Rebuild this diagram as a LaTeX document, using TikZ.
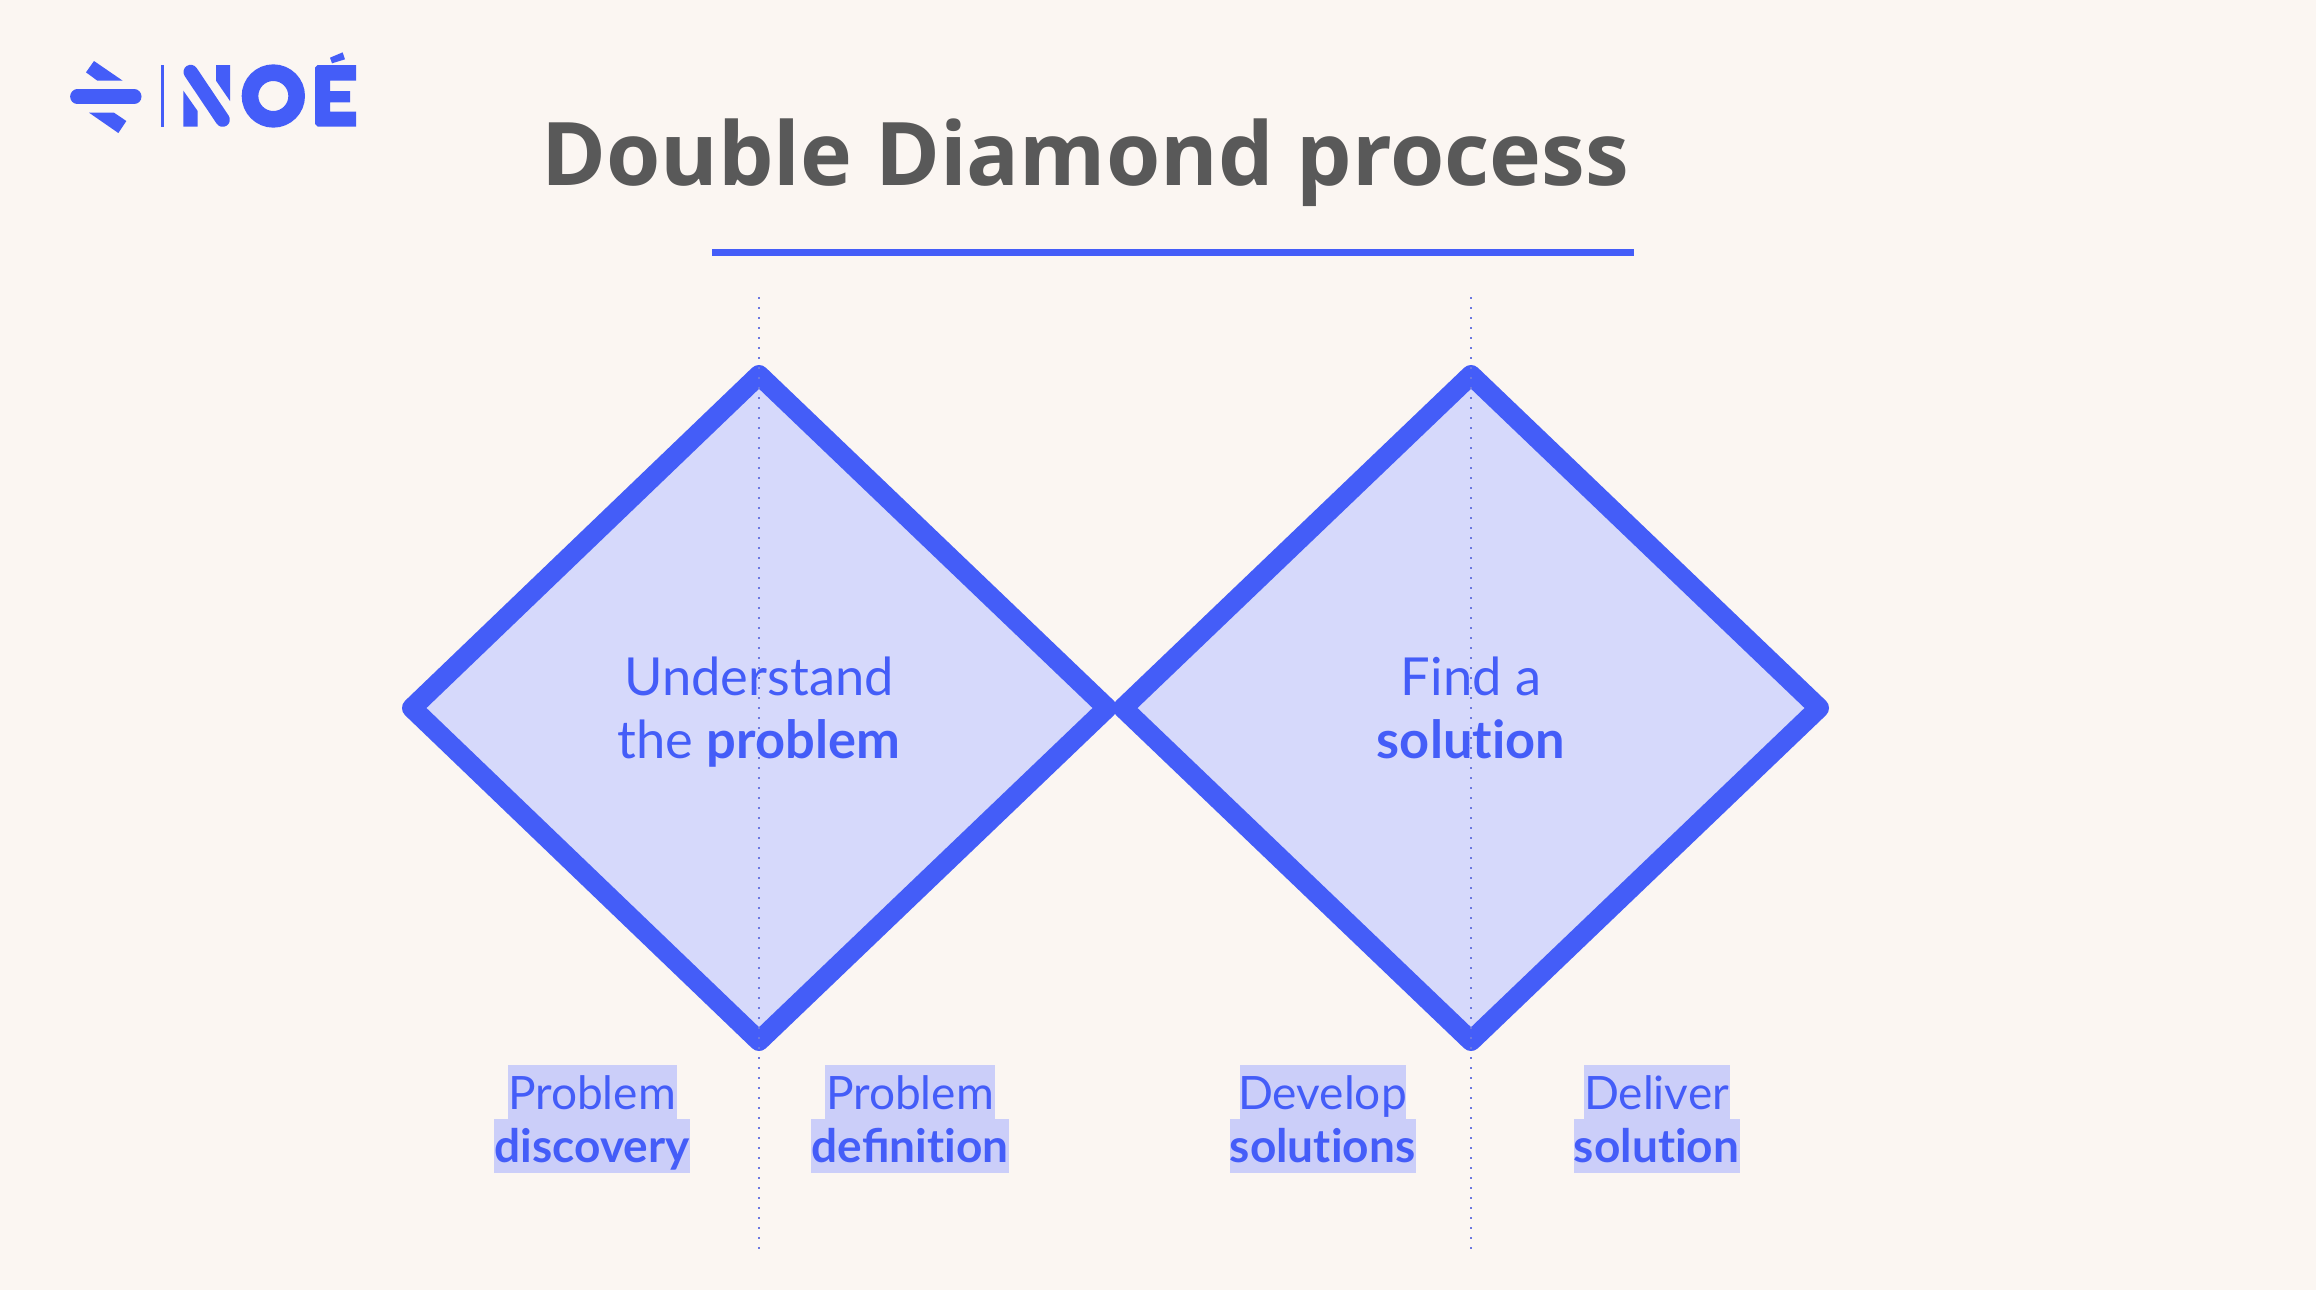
\documentclass[tikz,border=0pt]{standalone}
\usepackage{fontspec}
\setmainfont{Lato}
\newfontfamily\titlefont{Open Sans}
\newcommand{\nolig}{\kern0pt }
\definecolor{paper}{HTML}{FBF6F2}
\definecolor{noeblue}{HTML}{445DF8}
\definecolor{diamondfill}{HTML}{D6D9FB}
\definecolor{marker}{HTML}{CBCEF9}
\definecolor{titlegrey}{HTML}{595959}
\definecolor{dotblue}{HTML}{6A78E0}
\tikzset{
  diamondshape/.style={draw=noeblue,fill=diamondfill,line width=10pt,line join=round},
  guide/.style={draw=dotblue,line width=1pt,dash pattern=on 1pt off 4pt},
  centretext/.style={text=noeblue,anchor=base,inner sep=0pt,font=\fontsize{26.2}{30}\selectfont},
  labeltext/.style={text=noeblue,anchor=base,inner sep=0pt,font=\fontsize{23}{26}\selectfont},
  markerbox/.style={fill=marker,draw=none},
  logo/.style={fill=noeblue,draw=none},
}
\begin{document}
\begin{tikzpicture}[x=0.5pt,y=-0.5pt]
\useasboundingbox (0,0) rectangle (2316,1290);
\fill[paper] (0,0) rectangle (2316,1290);

% logo
\begin{scope}[shift={(40,30)},x=0.16667pt,y=-0.16667pt]
  \fill[logo] (162,93) -- (248,152) -- (172,152) -- (138,127) -- cycle;
  \fill[logo] (147,248) -- (222,248) -- (259,273) -- (235,309) -- cycle;
  \draw[noeblue,line width=7.2pt,line cap=round] (112,200) -- (283,200);
  \fill[logo] (363,105) rectangle (371,290);
  \draw[noeblue,line width=7.2pt,line cap=round] (452,126) -- (548,269);
  \fill[logo] (528,105) -- (570,105) -- (570,213) -- (528,152) -- cycle;
  \fill[logo] (430,182) -- (473,243) -- (473,290) -- (430,290) -- cycle;
  \draw[noeblue,line width=8.3pt] (700,198) circle (70);
  \fill[logo] (833,105) -- (948,105) -- (948,152) -- (870,152) -- (870,183) -- (930,183)
     -- (930,217) -- (870,217) -- (870,245) -- (948,245) -- (948,290) -- (833,290)
     -- (825,282) -- (825,113) -- cycle;
  \fill[logo] (870,83) -- (908,67) -- (915,88) -- (876,100) -- cycle;
\end{scope}

% title and rule
\node[anchor=base,inner sep=0pt,text=titlegrey,font=\titlefont\bfseries\fontsize{43.9}{48}\selectfont] (title) at (1085,185) {Double Diamond process};
\coordinate (ruleL) at (712,252.5);
\coordinate (ruleR) at (1634,252.5);
\draw[noeblue,line width=3.5pt] (ruleL) -- (ruleR);

% diamonds
\draw[diamondshape] (412,708) -- (759,375) -- (1107,708) -- (759,1041) -- cycle;
\draw[diamondshape] (1123,708) -- (1471,375) -- (1819,708) -- (1471,1041) -- cycle;

% guides
\coordinate (g1t) at (759,297);
\coordinate (g1b) at (759,1249);
\coordinate (g2t) at (1471,297);
\coordinate (g2b) at (1471,1249);
\draw[guide] (g1t) -- (g1b);
\draw[guide] (g2t) -- (g2b);

% centre texts
\node[centretext] (u1) at (759,695) {Understand};
\node[centretext] (u2) at (759,758) {the \textbf{problem}};
\node[centretext] (f1) at (1471,695) {Find a};
\node[centretext] (f2) at (1471,758) {\textbf{solut\nolig ion}};

% marker boxes
\fill[markerbox] (507.5,1065) rectangle (677,1119);
\fill[markerbox] (494,1119) rectangle (690,1173);
\fill[markerbox] (825,1065) rectangle (995,1119);
\fill[markerbox] (811,1119) rectangle (1008.5,1173);
\fill[markerbox] (1239.5,1065) rectangle (1405.5,1119);
\fill[markerbox] (1230,1119) rectangle (1415.5,1173);
\fill[markerbox] (1583.5,1065) rectangle (1729.5,1119);
\fill[markerbox] (1574,1119) rectangle (1739.5,1173);

% labels
\node[labeltext] (l1a) at (592,1109) {Problem};
\node[labeltext] (l1b) at (592,1162) {\textbf{discovery}};
\node[labeltext] (l2a) at (910,1109) {Problem};
\node[labeltext] (l2b) at (910,1162) {\textbf{defini\nolig t\nolig ion}};
\node[labeltext] (l3a) at (1322.5,1109) {Develop};
\node[labeltext] (l3b) at (1322.5,1162) {\textbf{solut\nolig ions}};
\node[labeltext] (l4a) at (1656.5,1109) {Deliver};
\node[labeltext] (l4b) at (1656.5,1162) {\textbf{solut\nolig ion}};
\end{tikzpicture}
\end{document}
